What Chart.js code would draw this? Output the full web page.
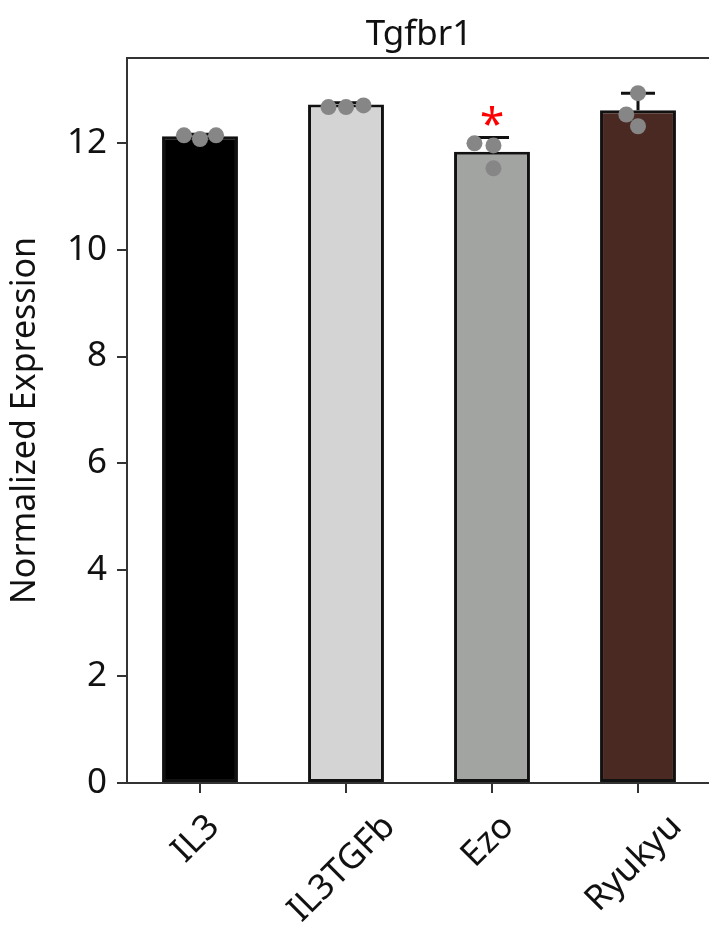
<!DOCTYPE html>
<html>
<head>
<meta charset="utf-8">
<script src="https://cdn.jsdelivr.net/npm/chart.js@4"></script>
<style>
  html, body { margin: 0; padding: 0; background: #fff; overflow: hidden; }
  canvas { display: block; }
</style>
</head>
<body>
<canvas id="chart" width="719" height="925"></canvas>
<script>
const groups = ['IL3', 'IL3TGFb', 'Ezo', 'Ryukyu'];
const means = [12.13, 12.73, 11.84, 12.62];
const sds = [0.04, 0.03, 0.27, 0.32];
const replicates = [
  [12.15, 12.08, 12.15],
  [12.68, 12.68, 12.71],
  [12.00, 11.96, 11.53],
  [12.94, 12.54, 12.32]
];
const jitter = [
  [-0.11, 0, 0.11],
  [-0.12, 0, 0.12],
  [-0.12, 0.01, 0.01],
  [0, -0.08, 0]
];
const marks = ['', '', '*', ''];
const yTicks = [0, 2, 4, 6, 8, 10, 12];
const barColors = ['#000000', '#d4d4d4', '#a2a4a1', '#4a2922'];

const FONT = '"Noto Sans", sans-serif';

const dots = [];
replicates.forEach((vals, i) => {
  vals.forEach((v, j) => dots.push({ x: i + jitter[i][j], y: v }));
});

const extras = {
  id: 'extras',
  beforeDatasetDraw(chart, args) {
    if (args.index !== 1) return;
    const ctx = chart.ctx;
    const x = chart.scales.x, y = chart.scales.y;
    ctx.save();
    ctx.strokeStyle = '#111';
    ctx.lineWidth = 3;
    means.forEach((m, i) => {
      const px = x.getPixelForValue(i);
      const top = y.getPixelForValue(m + sds[i]);
      ctx.beginPath();
      ctx.moveTo(px, y.getPixelForValue(m));
      ctx.lineTo(px, top);
      ctx.moveTo(px - 17, top);
      ctx.lineTo(px + 17, top);
      ctx.stroke();
    });
    ctx.restore();
  },
  afterDraw(chart) {
    const ctx = chart.ctx;
    const area = chart.chartArea;
    const x = chart.scales.x, y = chart.scales.y;
    ctx.save();
    // top and right spines
    ctx.strokeStyle = '#333';
    ctx.lineWidth = 2;
    ctx.beginPath();
    ctx.moveTo(area.left - 1, area.top);
    ctx.lineTo(area.right, area.top);
    ctx.lineTo(area.right, area.bottom);
    ctx.stroke();

    ctx.fillStyle = '#111';
    ctx.font = '35px ' + FONT;
    ctx.textAlign = 'center';
    ctx.textBaseline = 'alphabetic';
    ctx.fillText('Tgfbr1', (area.left + area.right) / 2, area.top - 13);

    ctx.fillStyle = '#ff0000';
    ctx.font = '44px ' + FONT;
    marks.forEach((t, i) => {
      if (!t) return;
      const top = y.getPixelForValue(means[i] + sds[i]);
      ctx.fillText(t, x.getPixelForValue(i), top + 2);
    });

    // rotated category labels, centred under the ticks
    ctx.fillStyle = '#111';
    ctx.font = '35px ' + FONT;
    ctx.textAlign = 'center';
    ctx.textBaseline = 'middle';
    const h = 26;
    groups.forEach((g, i) => {
      const w = ctx.measureText(g).width;
      const half = (w + h) * Math.SQRT1_2 / 2;
      ctx.save();
      ctx.translate(x.getPixelForValue(i) - 4, area.bottom + 29 + half);
      ctx.rotate(-Math.PI / 4);
      ctx.fillText(g, 0, 0);
      ctx.restore();
    });
    ctx.restore();
  }
};

new Chart(document.getElementById('chart'), {
  data: {
    labels: groups,
    datasets: [{
      type: 'bar',
      data: means,
      backgroundColor: barColors,
      borderColor: '#111',
      borderWidth: 3,
      borderSkipped: false,
      grouped: false,
      barPercentage: 0.52,
      categoryPercentage: 1,
      order: 2
    }, {
      type: 'scatter',
      data: dots,
      xAxisID: 'xd',
      backgroundColor: '#868686',
      borderWidth: 0,
      pointRadius: 8,
      order: 1
    }]
  },
  options: {
    responsive: false,
    animation: false,
    events: [],
    layout: { padding: { top: 58, right: 0, left: 0, bottom: 0 } },
    plugins: { legend: { display: false }, tooltip: { enabled: false }, title: { display: false } },
    scales: {
      x: {
        type: 'category',
        offset: true,
        grid: { display: true, drawOnChartArea: false, offset: false, tickLength: 10, color: '#333', lineWidth: 2 },
        border: { display: true, color: '#333', width: 2 },
        ticks: { display: false },
        afterFit(scale) { scale.height = 142; }
      },
      xd: {
        type: 'linear',
        min: -0.5,
        max: 3.5,
        display: false
      },
      y: {
        min: 0,
        max: 13.6,
        afterBuildTicks(scale) { scale.ticks = yTicks.map(v => ({ value: v })); },
        grid: { display: true, drawOnChartArea: false, tickLength: 10, color: '#333', lineWidth: 2 },
        border: { display: true, color: '#333', width: 2 },
        ticks: { font: { family: FONT, size: 35 }, color: '#111', padding: 10 },
        title: {
          display: true,
          text: 'Normalized Expression',
          font: { family: FONT, size: 34 },
          color: '#111',
          padding: { top: 5, bottom: 0 }
        },
        afterFit(scale) { scale.width = 127; }
      }
    }
  },
  plugins: [extras]
});
</script>
</body>
</html>
